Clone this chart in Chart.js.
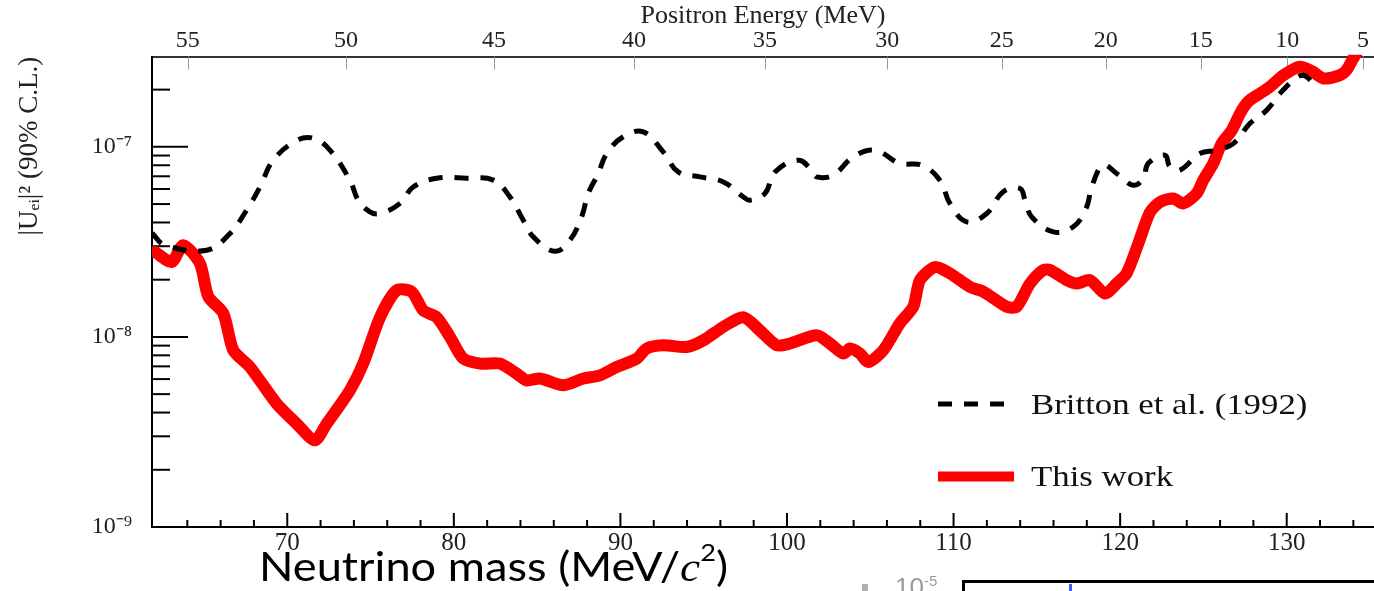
<!DOCTYPE html>
<html>
<head>
<meta charset="utf-8">
<script src="https://cdn.jsdelivr.net/npm/chart.js@4.4.0/dist/chart.umd.min.js"></script>
<style>
html,body{margin:0;padding:0;background:#fff;overflow:hidden;}
#wrap{position:relative;width:1374px;height:591px;overflow:hidden;background:#fff;}
#c{position:absolute;left:0;top:0;}
#xtitle{position:absolute;left:259px;top:546px;font-family:Lato,"Open Sans",sans-serif;font-size:40px;line-height:1;color:#000;white-space:nowrap;transform:scaleX(1.13);transform-origin:0 0;}
#xtitle i{font-family:"Liberation Serif",serif;font-size:40px;}
#xtitle sup{font-size:24px;vertical-align:0;position:relative;top:-20px;}
#frag10{position:absolute;left:895px;top:574px;font-family:"Liberation Sans",sans-serif;font-size:26px;line-height:1;color:#9a9a9a;white-space:nowrap;}
#frag10 sup{font-size:15px;position:relative;top:-10px;vertical-align:0;}
#fragbox{position:absolute;left:962px;top:580px;width:420px;height:30px;border-top:3px solid #000;border-left:3px solid #000;}
#fragblue{position:absolute;left:1069px;top:584px;width:3px;height:8px;background:#3a5cff;}
#fraggrey{position:absolute;left:862px;top:584px;width:6px;height:8px;background:#b0b0b0;}
</style>
</head>
<body>
<div id="wrap">
<canvas id="c" width="1374" height="591"></canvas>
<div id="xtitle">Neutrino mass (MeV/<i>c</i><sup>2</sup>)</div>
<div id="fraggrey"></div>
<div id="frag10">10<sup>-5</sup></div>
<div id="fragbox"></div>
<div id="fragblue"></div>
</div>
<script>
// ---------------- data ----------------
const massThisWork = [62.06,63.06,63.76,64.76,65.26,66.16,66.76,67.76,69.36,70.56,71.66,72.37,73.76,74.56,75.57,76.57,77.47,78.16,78.97,79.77,80.57,81.57,82.77,83.77,84.37,85.17,86.57,87.77,88.77,89.78,90.98,91.58,92.57,93.98,94.97,96.18,97.38,98.38,99.38,100.18,101.78,102.58,103.38,103.78,104.38,104.88,105.78,106.78,107.58,107.98,108.88,109.78,110.99,111.79,113.19,113.79,114.59,115.39,115.79,116.79,117.39,118.19,119.09,119.79,120.39,121.09,121.79,122.39,123.19,123.79,124.60,124.99,125.59,126.09,126.70,127.20,127.69,128.40,129.00,129.80,130.79,131.59,132.19,133.19,133.60,133.99,134.39];
const ueiThisWork = [2.80e-8,2.48e-8,3.04e-8,2.43e-8,1.63e-8,1.33e-8,8.51e-9,6.95e-9,4.46e-9,3.50e-9,2.86e-9,3.50e-9,5.24e-9,7.24e-9,1.27e-8,1.76e-8,1.73e-8,1.38e-8,1.27e-8,1.00e-8,7.69e-9,7.24e-9,7.24e-9,6.41e-9,5.91e-9,6.04e-9,5.57e-9,6.04e-9,6.28e-9,6.95e-9,7.69e-9,8.69e-9,9.04e-9,8.85e-9,9.59e-9,1.13e-8,1.27e-8,1.08e-8,9.04e-9,9.23e-9,1.02e-8,9.23e-9,8.18e-9,8.69e-9,8.18e-9,7.38e-9,8.51e-9,1.18e-8,1.44e-8,1.99e-8,2.33e-8,2.16e-8,1.83e-8,1.73e-8,1.44e-8,1.44e-8,1.91e-8,2.25e-8,2.25e-8,1.99e-8,1.91e-8,1.99e-8,1.69e-8,1.91e-8,2.16e-8,3.10e-8,4.53e-8,5.12e-8,5.35e-8,5.04e-8,5.69e-8,6.68e-8,8.19e-8,1.04e-7,1.22e-7,1.50e-7,1.73e-7,1.91e-7,2.07e-7,2.38e-7,2.64e-7,2.48e-7,2.29e-7,2.38e-7,2.54e-7,2.92e-7,3.31e-7];

const massBritton = [61.88,62.66,65.16,66.56,67.56,68.36,69.16,70.56,71.56,72.56,73.76,74.26,74.96,75.57,76.77,77.56,78.97,80.77,82.37,83.37,84.17,84.77,86.07,86.97,87.67,88.07,88.67,89.18,90.17,91.37,92.57,93.47,94.78,96.18,97.38,97.78,98.68,99.28,100.68,101.48,101.78,102.78,103.98,105.28,106.78,108.09,109.18,109.78,110.79,111.99,112.98,113.99,114.29,114.69,115.99,117.19,117.99,118.29,118.99,119.79,120.79,121.39,121.69,122.69,122.99,123.59,124.79,125.80,126.79,127.80,128.80,129.60,130.40,131.00,131.60];
const ueiBritton = [3.52e-8,3.04e-8,2.86e-8,3.50e-8,4.65e-8,6.15e-8,8.51e-8,1.08e-7,1.11e-7,9.61e-8,6.68e-8,5.24e-8,4.55e-8,4.46e-8,5.04e-8,6.15e-8,6.83e-8,6.83e-8,6.68e-8,5.45e-8,4.11e-8,3.36e-8,2.82e-8,3.23e-8,4.28e-8,5.69e-8,7.24e-8,9.23e-8,1.13e-7,1.20e-7,9.41e-8,7.38e-8,6.95e-8,6.54e-8,5.45e-8,5.24e-8,5.69e-8,7.38e-8,8.51e-8,7.54e-8,6.95e-8,7.10e-8,8.86e-8,9.61e-8,8.18e-8,8.01e-8,6.68e-8,5.04e-8,4.03e-8,4.46e-8,5.80e-8,6.04e-8,5.24e-8,4.28e-8,3.57e-8,3.80e-8,4.83e-8,6.15e-8,8.01e-8,7.24e-8,6.28e-8,6.83e-8,8.19e-8,9.04e-8,7.85e-8,7.54e-8,9.23e-8,9.61e-8,1.04e-7,1.33e-7,1.56e-7,1.91e-7,2.24e-7,2.38e-7,2.16e-7];

const seriesLabels = ['Britton et al. (1992)', 'This work'];

// tick labels and positions
const massTicks = [70, 80, 90, 100, 110, 120, 130];
const massMinorTicks = [64,66,68,72,74,76,78,82,84,86,88,92,94,96,98,102,104,106,108,112,114,116,118,122,124,126,128,132,134];
const energyTicks = [55, 50, 45, 40, 35, 30, 25, 20, 15, 10, 5];
const energyTickMass = [64.02, 73.52, 82.41, 90.81, 98.68, 106.02, 112.89, 119.13, 124.84, 130.03, 134.58];
const yTickValues = [1e-9, 1e-8, 1e-7];
const yTickLabels = ['10\u207B\u2079', '10\u207B\u2078', '10\u207B\u2077'];
const yMinorTicks = [2e-9,3e-9,4e-9,5e-9,6e-9,7e-9,8e-9,9e-9,2e-8,3e-8,4e-8,5e-8,6e-8,7e-8,8e-8,9e-8,2e-7];

const xMin = 61.88, xMax = 135.24;
const yMin = 1e-9, yMax = 2.98e-7;

// ---------------- chart ----------------
const serif = '"Liberation Serif", "Times New Roman", serif';

function toPoints(xs, ys) { return xs.map((x, i) => ({x: x, y: ys[i]})); }

const innerTicks = {
  id: 'innerTicks',
  beforeDatasetsDraw(chart) {
    const {ctx, chartArea: a, scales} = chart;
    ctx.save();
    ctx.lineCap = 'butt';
    const seg = (x1, y1, x2, y2) => { ctx.beginPath(); ctx.moveTo(x1, y1); ctx.lineTo(x2, y2); ctx.stroke(); };
    ctx.strokeStyle = '#000';
    ctx.lineWidth = 2;
    massTicks.forEach(v => { const p = scales.x.getPixelForValue(v); seg(p, a.bottom, p, a.bottom - 14); });
    massMinorTicks.forEach(v => { const p = scales.x.getPixelForValue(v); seg(p, a.bottom, p, a.bottom - 7); });
    yTickValues.forEach(v => { const p = scales.y.getPixelForValue(v); if (p < a.bottom - 1) seg(a.left, p, a.left + 36, p); });
    yMinorTicks.forEach(v => { const p = scales.y.getPixelForValue(v); seg(a.left, p, a.left + 18, p); });
    ctx.strokeStyle = '#9a9a9a';
    ctx.lineWidth = 1;
    energyTickMass.forEach(v => { const p = Math.round(scales.x2.getPixelForValue(v)) + 0.5; seg(p, a.top, p, a.top + 13); });
    ctx.restore();
  }
};

const insideLegend = {
  id: 'insideLegend',
  afterDraw(chart) {
    const {ctx, chartArea: a} = chart;
    const ds = chart.data.datasets;
    const x0 = a.left + 786, x1 = a.left + 858, tx = a.left + 879;
    const rows = [{d: ds[0], y: 404}, {d: ds[1], y: 476.5}];
    ctx.save();
    rows.forEach(r => {
      ctx.beginPath();
      ctx.setLineDash(r.d.borderDash || []);
      ctx.lineWidth = r.d.borderDash ? 5 : 10;
      ctx.strokeStyle = r.d.borderColor;
      ctx.lineCap = 'butt';
      ctx.moveTo(x0, r.y);
      ctx.lineTo(r.d.borderDash ? x1 : x1 + 4, r.y);
      ctx.stroke();
      ctx.setLineDash([]);
      ctx.save();
      ctx.translate(tx, r.y + 9.5);
      ctx.scale(1.2, 1);
      ctx.font = '29px ' + serif;
      ctx.fillStyle = '#111';
      ctx.textBaseline = 'alphabetic';
      ctx.fillText(r.d.label, 0, 0);
      ctx.restore();
    });
    ctx.restore();
  }
};

new Chart(document.getElementById('c'), {
  type: 'line',
  data: {
    datasets: [
      {
        label: seriesLabels[0],
        data: toPoints(massBritton, ueiBritton),
        borderColor: '#000',
        borderWidth: 5,
        borderDash: [14, 12],
        borderCapStyle: 'butt',
        tension: 0.4,
        pointRadius: 0,
        fill: false
      },
      {
        label: seriesLabels[1],
        data: toPoints(massThisWork, ueiThisWork),
        borderColor: '#ff0000',
        borderWidth: 12,
        borderJoinStyle: 'round',
        borderCapStyle: 'round',
        tension: 0.25,
        pointRadius: 0,
        fill: false,
        clip: {left: 0, top: 2, right: 0, bottom: 0}
      }
    ]
  },
  options: {
    responsive: false,
    devicePixelRatio: 1,
    animation: false,
    layout: {padding: 0},
    plugins: {legend: {display: false}, tooltip: {enabled: false}},
    scales: {
      x: {
        type: 'linear', position: 'bottom', min: xMin, max: xMax,
        afterBuildTicks: s => { s.ticks = massTicks.map(v => ({value: v})); },
        afterFit: s => { s.height = 64; },
        grid: {display: false, drawTicks: false},
        border: {display: true, color: '#000', width: 2},
        ticks: {font: {family: serif, size: 25}, color: '#222', padding: 1, maxRotation: 0, autoSkip: false,
                callback: (v, i) => String(massTicks[i])}
      },
      x2: {
        type: 'linear', position: 'top', min: xMin, max: xMax,
        afterBuildTicks: s => { s.ticks = energyTickMass.map(v => ({value: v})); },
        afterFit: s => { s.height = 56.7; },
        grid: {display: false, drawTicks: false},
        border: {display: true, color: '#333', width: 2},
        ticks: {font: {family: serif, size: 24}, color: '#222', padding: 2, maxRotation: 0, autoSkip: false,
                callback: (v, i) => String(energyTicks[i])},
        title: {display: true, text: 'Positron Energy (MeV)', font: {family: serif, size: 26}, color: '#222',
                padding: {top: 1, bottom: 0}}
      },
      y: {
        type: 'logarithmic', position: 'left', min: yMin, max: yMax,
        afterBuildTicks: s => { s.ticks = yTickValues.map(v => ({value: v})); },
        afterFit: s => { s.width = 152; },
        grid: {display: false, drawTicks: false},
        border: {display: true, color: '#000', width: 2},
        ticks: {font: {family: serif, size: 24}, color: '#222', padding: 20, autoSkip: false,
                callback: (v, i) => yTickLabels[i]},
        title: {display: true, text: '|U\u2091\u1D62|\u00B2 (90% C.L.)', align: 'end', font: {family: serif, size: 27}, color: '#222',
                padding: {top: 14, bottom: 0}}
      }
    }
  },
  plugins: [innerTicks, insideLegend]
});
</script>
</body>
</html>
